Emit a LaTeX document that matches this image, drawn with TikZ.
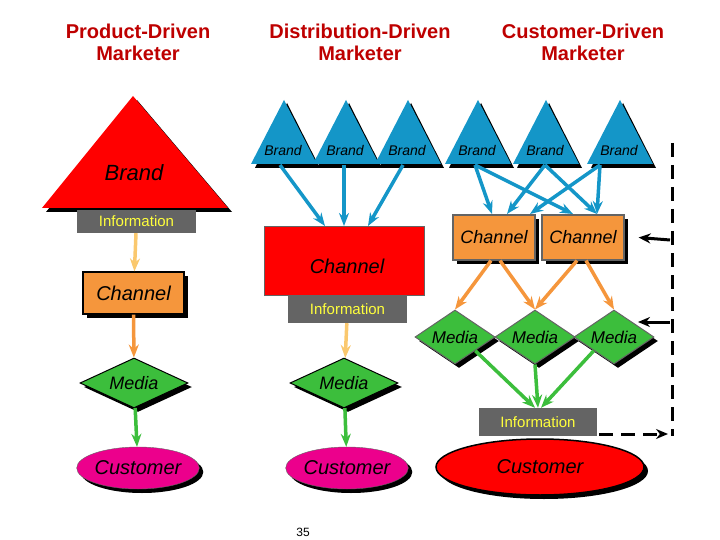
\documentclass[tikz,border=0pt]{standalone}
\usepackage{fontspec}
\setmainfont{Liberation Sans}
\usetikzlibrary{shapes.geometric,arrows.meta,shadows}
\definecolor{myblue}{RGB}{20,150,200}
\definecolor{myorange}{RGB}{245,150,60}
\definecolor{lorange}{RGB}{250,200,110}
\definecolor{mygreen}{RGB}{60,190,60}
\definecolor{mygrey}{RGB}{100,100,100}
\definecolor{myyellow}{RGB}{255,255,60}
\definecolor{titlered}{RGB}{190,0,0}
\begin{document}
\begin{tikzpicture}[x=1pt,y=-1pt,
 sh/.style={drop shadow={shadow xshift=4pt,shadow yshift=-4pt,opacity=1,fill=black}},
 title/.style={font=\fontsize{20}{22}\selectfont\bfseries, text=titlered, align=center},
 info/.style={fill=mygrey, text=myyellow, font=\fontsize{15}{16}\selectfont, inner sep=0pt},
 lab/.style={font=\fontsize{#1}{#1}\selectfont\itshape},
 chan/.style={draw=mygrey, line width=1.2pt, fill=myorange, sh, inner sep=0pt},
 med/.style={diamond, draw=mygrey, line width=1pt, fill=mygreen, sh, inner sep=0pt, aspect=2.2},
 cust/.style={ellipse, draw=mygrey, fill=magenta, sh, inner sep=0pt},
 a/.style={-{Stealth[length=13pt,width=10pt]}, line width=3.5pt},
 ba/.style={a, myblue},
 k/.style={line width=3pt, -{Stealth[length=12pt,width=10pt]}},
]
\useasboundingbox (0,0) rectangle (720,540);
% titles
\node[title] (t1) at (138,42) {Product-Driven\\Marketer};
\node[title] (t2) at (360,42) {Distribution-Driven\\Marketer};
\node[title] (t3) at (583,42) {Customer-Driven\\Marketer};

% ---- left column
\fill[black] (137,100) -- (232,212) -- (46,212) -- cycle;
\fill[red] (133,96) -- (228,208) -- (42,208) -- cycle;
\node[lab=22] (b0) at (134,173) {Brand};
\node[info, minimum width=119pt, minimum height=23pt] (i0) at (136.5,221.5) {Information};
\node[chan, draw=black, minimum width=101pt, minimum height=42pt, lab=20] (c0) at (133.5,293) {Channel};
\node[med, draw=black, minimum width=108pt, minimum height=50pt, lab=18] (m0) at (134,383) {Media};
\node[cust, minimum width=108pt, minimum height=42pt, lab=20] (u0) at (138,468) {Customer};
\draw[a, lorange] (i0) -- (c0);
\draw[a, myorange] (c0) -- (m0);
\draw[a, mygreen] (m0) -- (u0);

% ---- brands
\foreach \x/\n in {284/p1,346/p2,408/p3,478/q1,546/q2,620/q3}{
  \fill[black] (\x+3,103) -- (\x+36,168) -- (\x-29,168) -- cycle;
  \fill[myblue] (\x,100) -- (\x+33,164) -- (\x-33,164) -- cycle;
  \node[lab=14] (\n) at (\x-1,151) {Brand};
}
% ---- middle column
\node[fill=red, draw=mygrey, line width=1pt, minimum width=160pt, minimum height=69pt, inner sep=0pt] (c1) at (344,261) {};
\node[lab=20] (c1t) at (347,266) {Channel};
\node[info, minimum width=119pt, minimum height=27pt] (i1) at (347.5,309.5) {Information};
\node[med, draw=black, minimum width=108pt, minimum height=50pt, lab=18] (m1) at (344,383) {Media};
\node[cust, minimum width=112pt, minimum height=42pt, lab=20] (u1) at (347,468) {Customer};
\coordinate (p1b) at (280,165); \coordinate (p2b) at (344,165); \coordinate (p3b) at (403,165);
\draw[ba] (p1b) -- (325,226);
\draw[ba] (p2b) -- (344,226);
\draw[ba] (p3b) -- (368,226);
\draw[a, lorange] (i1) -- (m1);
\draw[a, mygreen] (m1) -- (u1);
\node (pg) at (303,532) {\fontsize{12}{12}\selectfont 35};

% ---- right column
\node[chan, minimum width=82pt, minimum height=45pt, lab=18] (c2) at (494,237.5) {Channel};
\node[chan, minimum width=82pt, minimum height=45pt, lab=18] (c3) at (583,237.5) {Channel};
\coordinate (q1b) at (475,165); \coordinate (q2b) at (545,165); \coordinate (q3b) at (600,165);
\draw[ba] (q1b) -- (492,214);
\draw[ba] (q1b) -- (573,214);
\draw[ba] (q2b) -- (507,214);
\draw[ba] (q2b) -- (597,214);
\draw[ba] (q3b) -- (530,214);
\draw[ba] (q3b) -- (597,214);
\node[med, minimum width=80pt, minimum height=54pt, lab=17] (m2) at (455,337) {Media};
\node[med, minimum width=80pt, minimum height=54pt, lab=17] (m3) at (535,337) {Media};
\node[med, minimum width=80pt, minimum height=54pt, lab=17] (m4) at (614,337) {Media};
\draw[a, myorange] ([xshift=-3pt]c2.south) -- (m2.north);
\draw[a, myorange] ([xshift=6pt]c2.south) -- (m3.north);
\draw[a, myorange] ([xshift=-6pt]c3.south) -- (m3.north);
\draw[a, myorange] ([xshift=3pt]c3.south) -- (m4.north);
\node[info, minimum width=118pt, minimum height=28pt] (i2) at (538,422) {Information};
\node[ellipse, draw=black, line width=1.5pt, fill=red, sh, minimum width=208pt, minimum height=56pt, inner sep=0pt, lab=20] (u2) at (540,467) {Customer};
\draw[a, mygreen] (m2.south east) -- ([xshift=-3pt]i2.north);
\draw[a, mygreen] (m3.south) -- (i2.north);
\draw[a, mygreen] (m4.south west) -- ([xshift=3pt]i2.north);
% dashed feedback
\coordinate (d1) at (672,143); \coordinate (d2) at (672,436);
\coordinate (f1) at (670,240); \coordinate (f2) at (670,322); \coordinate (f3) at (599,434); \coordinate (f4) at (668,434);
\coordinate (m4r) at (638,322);
\draw[line width=3pt, dash pattern=on 14pt off 8pt] (d1) -- (d2);
\draw[k, dash pattern=on 14pt off 8pt] (f3) -- (f4);
\draw[k] (f1) -- ([xshift=14pt]c3.east);
\draw[k] (f2) -- (m4r);
\end{tikzpicture}
\end{document}
